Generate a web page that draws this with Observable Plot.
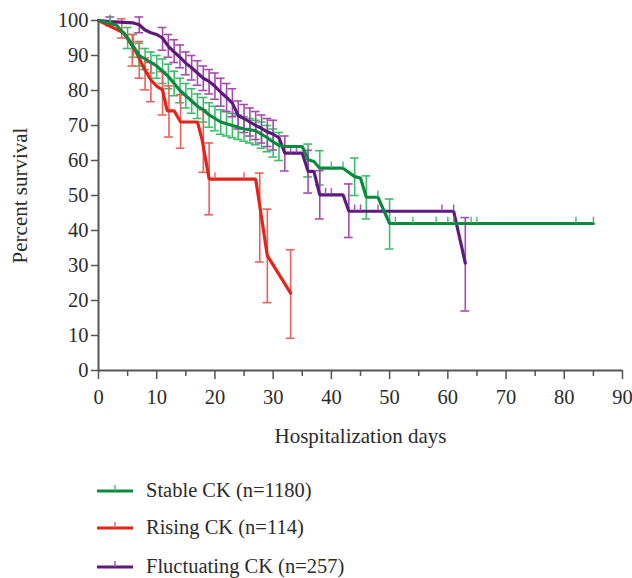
<!DOCTYPE html>
<html>
<head>
<meta charset="utf-8">
<script src="https://cdn.jsdelivr.net/npm/d3@7"></script>
<script src="https://cdn.jsdelivr.net/npm/@observablehq/plot@0.6"></script>
<style>
  body { margin: 0; background: #fff; font-family: "Liberation Serif", serif; }
  #wrap { position: relative; width: 632px; height: 578px; }
  .leg { position: absolute; left: 97px; display: flex; align-items: center; font-size: 20.5px; color: #2b2b2b; }
  .leg svg { margin-right: 13px; }
</style>
</head>
<body>
<div id="wrap"></div>
<script>
// ---- Data ----
const seriesNames = ["Stable CK (n=1180)", "Rising CK (n=114)", "Fluctuating CK (n=257)"];
const lineColors = ["#0b8a3f", "#e1251b", "#5c1b7d"];
const barColors = ["#3dbd6c", "#e8615a", "#a54bb0"];

const stableT = [0,3,4,5,6,7,8,9,10,11,12,13,14,15,16,17,18,19,20,21,22,23,24,25,26,27,28,29,30,31,32,35,36,37,38,42,44,45,46,48,50,85];
const stableS = [100,98.8,97,95,92.5,90,89,88,87,85.5,84,82,80,78.5,77,75.5,74.5,73,72,71,70.5,70,69.5,69,68.8,68.5,67.5,66.5,65.3,64.3,64,64,60.2,59.7,57.8,57.8,55.4,55,49.5,49.5,42,42];
const stableBarT  = [5,6,7,8,9,10,11,12,13,14,15,16,17,18,19,20,21,22,23,24,25,26,27,28,29,30,31,36,38,44,46,50];
const stableBarLo = [92,89.5,87,86,85,83.5,82,80.5,78.5,76.5,75,73.5,72,71,69.5,68.5,67.5,67,66.5,66,65.5,65,64.5,63.5,62.5,61,60,55.3,53,50,43.3,34.7];
const stableBarHi = [98,96,93.5,92,91,90,89,87.5,85.5,83.5,82,80.5,79,78,76.5,75.5,74.5,74,73.5,73,72.5,72,71.5,71,70,69,68,64.7,62.8,60.7,55.6,49];
const stableCensT = [2,40,42,48,51,54,58,60,61,64,65,82,85];
const stableCensS = [99.3,57.8,57.8,49.5,42,42,42,42,42,42,42,42,42];

const risingT = [0,4.4,6.4,7.8,9,10.1,11,11.8,13,14.1,17,17.8,19,27,29,33];
const risingS = [100,96.4,91.2,86.4,83,81.1,80.2,74.2,74.2,71,71,65.9,54.7,54.7,32.8,22.1];
const risingBarT  = [4,5.8,7,8,9,11,12.1,14.1,18,19,27.7,29,33];
const risingBarLo = [95,87,83.5,80.2,76.8,73,66.7,63.5,56.6,44.5,31,19.4,9.2];
const risingBarHi = [100.5,96,94,89.3,88,85.4,81.3,78.8,74.5,65,56.4,46.1,34.5];
const risingCensT = [20,25];
const risingCensS = [54.7,54.7];

const fluctT = [0,2,6,7,8,9,10,11,12,13,14,15,16,17,18,19,20,21,22,23,24,25,26,27,28,29,30,31,32,35,36,37,38,42,43,61,63];
const fluctS = [100,99.7,99.3,98.8,97.3,96.5,96,95,92.6,91,89.5,87.8,86.5,85,83.5,82.6,81.2,79.5,78,76.4,72.8,72,71,70,69.2,68.2,67.5,66.5,62.1,62.1,56.9,56.9,50.2,50.2,45.5,45.5,30.7];
const fluctBarT  = [2,7,11,12,13,14,15,16,17,18,19,20,21,22,23,24,25,26,27,28,29,30,32,36,38,43,63];
const fluctBarLo = [98.5,96.5,91.5,89.5,88,86.5,84.5,83,81.5,80,79,77.5,75.5,74,72.5,69,68,67,66,65,64,63,57,50.7,43.3,38,17];
const fluctBarHi = [101,101,98,96,94.5,93,91,90,88.5,87,86,85,83.5,82,80.5,77,76,75,74,73,72,71.5,67,62.9,57.1,53.3,43.7];
const fluctCensT = [2,33,34,39,40,44,45,48,59,61];
const fluctCensS = [99.7,62.1,62.1,50.2,50.2,45.5,45.5,45.5,45.5,45.5];

const xTicks = [0,10,20,30,40,50,60,70,80,90];
const xMinorTicks = [5,15,25,35,45,55,65,75,85];
const yTicks = [0,10,20,30,40,50,60,70,80,90,100];

// ---- Build tables ----
const curves = [[stableT, stableS],[risingT, risingS],[fluctT, fluctS]]
  .map(([T,S], i) => T.map((t,j) => ({t, s: S[j], g: i})));
const bars = [[stableBarT, stableBarLo, stableBarHi],[risingBarT, risingBarLo, risingBarHi],[fluctBarT, fluctBarLo, fluctBarHi]]
  .map(([T,L,H], i) => T.map((t,j) => ({t, lo: L[j], hi: H[j], g: i})));
const cens = [[stableCensT, stableCensS],[risingCensT, risingCensS],[fluctCensT, fluctCensS]]
  .map(([T,S], i) => T.map((t,j) => ({t, s: S[j], g: i})));

const capHalf = 0.75;   // cap half-width in days
const censLen = 1.8;    // censor tick height in %

const marks = [];
[0,1,2].forEach(i => {
  marks.push(Plot.ruleX(bars[i], {x: "t", y1: "lo", y2: "hi", stroke: barColors[i], strokeWidth: 1.6}));
  marks.push(Plot.ruleY(bars[i], {y: "lo", x1: d => d.t - capHalf, x2: d => d.t + capHalf, stroke: barColors[i], strokeWidth: 1.6}));
  marks.push(Plot.ruleY(bars[i], {y: "hi", x1: d => d.t - capHalf, x2: d => d.t + capHalf, stroke: barColors[i], strokeWidth: 1.6}));
});
[1,2,0].forEach(i => {
  marks.push(Plot.line(curves[i], {x: "t", y: "s", stroke: lineColors[i], strokeWidth: 3.2, strokeLinejoin: "miter"}));
  marks.push(Plot.ruleX(cens[i], {x: "t", y1: "s", y2: d => d.s + censLen, stroke: barColors[i], strokeWidth: 1.4}));
});

marks.push(Plot.axisX({ticks: xMinorTicks, tickSize: 6, tickFormat: () => "", stroke: "#555", strokeWidth: 1.5, label: null}));
marks.push(Plot.axisX({ticks: xTicks, tickSize: 9, tickPadding: 10, stroke: "#555", strokeWidth: 1.5,
  fontSize: 20.5, fill: "#2b2b2b", label: null}));
marks.push(Plot.axisY({ticks: yTicks, tickSize: 7, tickPadding: 3, stroke: "#555", strokeWidth: 1.5,
  fontSize: 20.5, fill: "#2b2b2b", label: null}));
marks.push(Plot.axisX({ticks: [], tickSize: 0, label: "Hospitalization days", labelAnchor: "center", labelArrow: "none",
  labelOffset: 72, fontSize: 21, fill: "#2b2b2b"}));
marks.push(Plot.axisY({ticks: [], tickSize: 0, label: "Percent survival", labelAnchor: "center", labelArrow: "none",
  labelOffset: 86, fontSize: 21, fill: "#2b2b2b"}));
marks.push(Plot.ruleY([0], {stroke: "#555", strokeWidth: 2}));
marks.push(Plot.ruleX([0], {stroke: "#555", strokeWidth: 2}));

const chart = Plot.plot({
  width: 632,
  height: 460,
  marginLeft: 98,
  marginRight: 10,
  marginTop: 20,
  marginBottom: 90,
  x: {domain: [0, 90]},
  y: {domain: [0, 100]},
  style: {fontFamily: "Liberation Serif, serif", fontSize: "20.5px", color: "#2b2b2b", background: "#fff", overflow: "visible"},
  marks
});
const wrap = document.getElementById("wrap");
wrap.appendChild(chart);

const legendTops = [490, 527, 566];
seriesNames.forEach((name, i) => {
  const row = document.createElement("div");
  row.className = "leg";
  row.style.top = (legendTops[i] - 14) + "px";
  row.innerHTML = `<svg width="36" height="28"><line x1="0" x2="36" y1="15" y2="15" stroke="${lineColors[i]}" stroke-width="3.2"/><line x1="18" x2="18" y1="15" y2="9" stroke="${barColors[i]}" stroke-width="1.4"/></svg><span>${name}</span>`;
  wrap.appendChild(row);
});
</script>
</body>
</html>
